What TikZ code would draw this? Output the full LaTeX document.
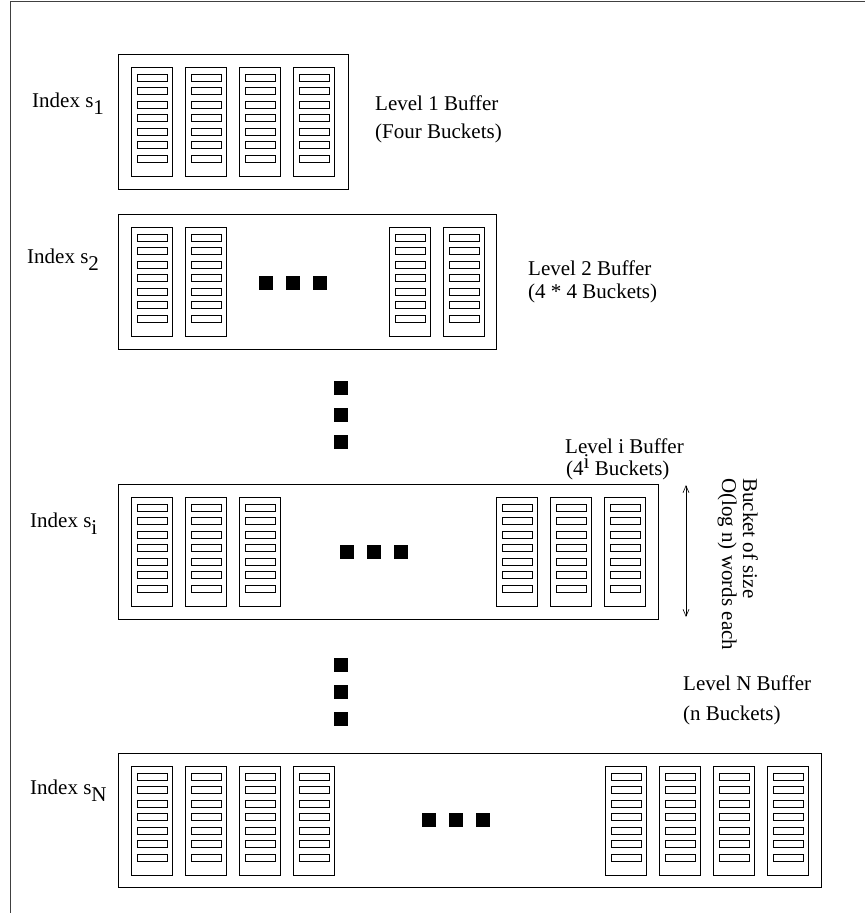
\documentclass[tikz,border=0pt]{standalone}
\usepackage{fontspec}
\setmainfont{Liberation Serif}
\usetikzlibrary{arrows.meta}

% one bucket: outer frame with seven word slots, (#1,#2) = top-left corner
\newcommand\bucketcol[2]{%
  \draw[bucketbox] (#1,#2) rectangle ++(41,109);
  \foreach \k in {0,...,6}
    \draw[slotbox] ({#1+6},{#2+7+13.5*\k}) rectangle ++(30,7);
}
% filled square used for the ellipsis marks
\newcommand\blk[2]{\fill[black] (#1,#2) rectangle ++(14,14);}
% lowered index as in s_1
\newcommand\lowidx[1]{\raisebox{-7pt}{#1}}

\begin{document}
\begin{tikzpicture}[x=1pt,y=-1pt,
  bufbox/.style={draw=black,line width=1pt},
  bucketbox/.style={draw=black,line width=0.8pt},
  slotbox/.style={draw=black,line width=0.7pt},
  lbl/.style={inner sep=0pt,anchor=base west,font=\fontsize{21}{25}\selectfont},
  frameline/.style={draw=black!75,line width=1pt}]
\useasboundingbox (0,0) rectangle (865,913);

% outer frame (top and left edges)
\draw[frameline] (10,913) -- (10,1) -- (865,1);

% ---- level 1 buffer ----
\draw[bufbox] (118,54) rectangle (348,189);
\foreach \x in {131,185,239,293} {\bucketcol{\x}{67}}
\node[lbl] (idx1) at (32,107) {Index s\lowidx{1}};
\node[lbl] (lv1a) at (375,110) {Level 1 Buffer};
\node[lbl] (lv1b) at (375,138) {(Four Buckets)};

% ---- level 2 buffer ----
\draw[bufbox] (118,214) rectangle (496,349);
\foreach \x in {131,185,389,443} {\bucketcol{\x}{227}}
\foreach \x in {259,286,313} {\blk{\x}{276}}
\node[lbl] (idx2) at (27,263) {Index s\lowidx{2}};
\node[lbl] (lv2a) at (528,275) {Level 2 Buffer};
\node[lbl] (lv2b) at (528,298) {(4 * 4 Buckets)};

% vertical ellipsis between level 2 and level i
\foreach \y in {381,408,435} {\blk{334}{\y}}

% ---- level i buffer ----
\draw[bufbox] (118,484) rectangle (658,619);
\foreach \x in {131,185,239,496,550,604} {\bucketcol{\x}{497}}
\foreach \x in {340,367,394} {\blk{\x}{545}}
\node[lbl] (idxi) at (30,527) {Index s\lowidx{i}};
\node[lbl] (lvia) at (565,453) {Level i Buffer};
\node[lbl] (lvib) at (566,475) {(4\raisebox{7pt}{i} Buckets)};

% bucket size arrow and its note
\coordinate (arrtop) at (686,485);
\coordinate (arrbot) at (686,617);
\draw[{Straight Barb[length=7pt,width=6pt]}-{Straight Barb[length=7pt,width=6pt]},line width=0.6pt] (arrtop) -- (arrbot);
\node[inner sep=0pt,rotate=-90,anchor=north west,align=left,
      font=\fontsize{21}{21}\selectfont] (bnote) at (758,478)
  {Bucket of size\\O(log n) words each};

% vertical ellipsis between level i and level N
\foreach \y in {658,685,712} {\blk{334}{\y}}

% ---- level N buffer ----
\draw[bufbox] (118,753) rectangle (821,887);
\foreach \x in {131,185,239,293,605,659,713,767} {\bucketcol{\x}{766}}
\foreach \x in {422,449,476} {\blk{\x}{813}}
\node[lbl] (idxN) at (30,794) {Index s\lowidx{N}};
\node[lbl] (lvNa) at (683,690) {Level N Buffer};
\node[lbl] (lvNb) at (683,720) {(n Buckets)};
\end{tikzpicture}
\end{document}
